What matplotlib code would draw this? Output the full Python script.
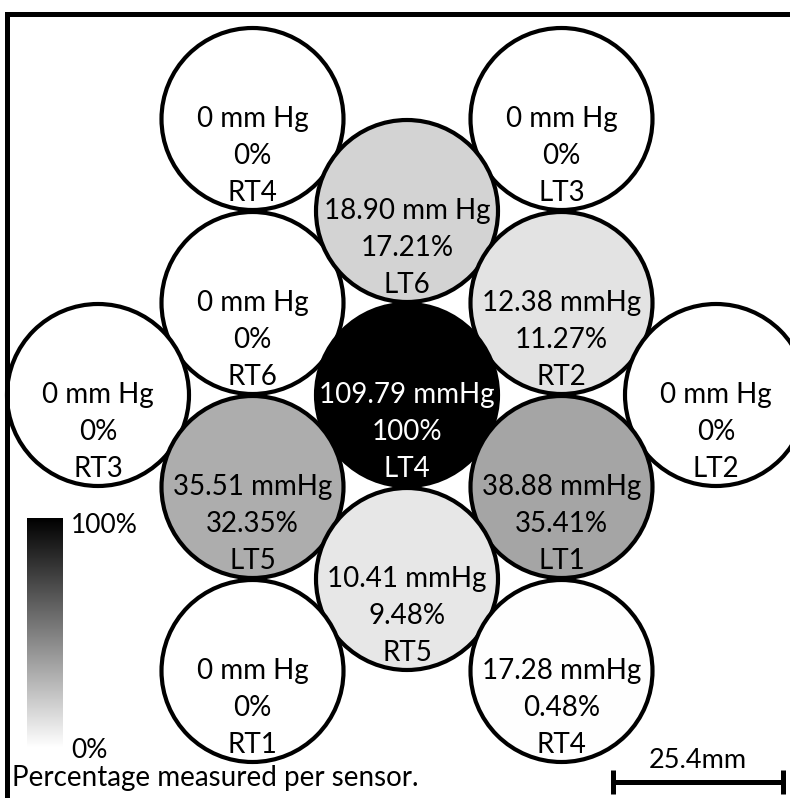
import matplotlib.pyplot as plt
import numpy as np
from matplotlib.patches import Circle
from matplotlib.colors import LinearSegmentedColormap, Normalize
from matplotlib.cm import ScalarMappable

plt.rcParams['font.family'] = ['Lato', 'DejaVu Sans']

# sensor readings
sensors = ['RT4', 'LT3', 'RT6', 'LT6', 'RT2', 'RT3', 'LT4', 'LT2', 'LT5', 'LT1', 'RT5', 'RT1', 'RT4']
pressure = [0, 0, 0, 18.90, 12.38, 0, 109.79, 0, 35.51, 38.88, 10.41, 0, 17.28]
units = ['mm Hg', 'mm Hg', 'mm Hg', 'mm Hg', 'mmHg', 'mm Hg', 'mmHg', 'mm Hg',
         'mmHg', 'mmHg', 'mmHg', 'mm Hg', 'mmHg']
percent = [0, 0, 0, 17.21, 11.27, 0, 100, 0, 32.35, 35.41, 9.48, 0, 0.48]
scale_mm = 25.4

# slot of each sensor on the hex grid (column, half-row)
grid_col = [-1, 1, -1, 0, 1, -2, 0, 2, -1, 1, 0, -1, 1]
grid_row = [-3, -3, -1, -2, -1, 0, 0, 0, 1, 1, 2, 3, 3]

W, H = 790, 798
fig = plt.figure(figsize=(W / 100, H / 100), dpi=100)
ax = fig.add_axes([0, 0, 1, 1])
ax.set_xlim(0, W)
ax.set_ylim(H, 0)
ax.axis('off')

cmap = LinearSegmentedColormap.from_list('white_black', ['white', 'black'])
norm = Normalize(0, 100)

x0, y0, dx, dy, rad = 407, 395, 154.5, 92, 91
for name, p, u, pct, c, rw in zip(sensors, pressure, units, percent, grid_col, grid_row):
    cx = x0 + c * dx
    cy = y0 + rw * dy
    ax.add_patch(Circle((cx, cy), rad, facecolor=cmap(norm(pct)), edgecolor='black', lw=3, zorder=2))
    tc = 'white' if pct > 60 else 'black'
    p_txt = f'{p:.2f}' if p else '0'
    lines = [f'{p_txt} {u}', f'{pct:g}%', name]
    for k, s in enumerate(lines):
        ax.text(cx, cy + 8 + 37 * k, s, ha='center', va='baseline', fontsize=20, color=tc, zorder=3)

# frame (left and top only)
ax.plot([7, 7, W], [H, 14, 14], color='black', lw=3.6, solid_joinstyle='miter', solid_capstyle='butt')

# scale bar
px_per_mm = 170 / 25.4
bx0, by = 613, 782
bx1 = bx0 + scale_mm * px_per_mm
ax.plot([bx0, bx1], [by, by], color='black', lw=3.6, solid_capstyle='butt')
for bx in (bx0, bx1):
    ax.plot([bx, bx], [by - 12, by + 12], color='black', lw=3.6, solid_capstyle='butt')
ax.text((bx0 + bx1) / 2, by - 14, f'{scale_mm}mm', ha='center', va='baseline', fontsize=19.5)

# colour bar
cax = fig.add_axes([27 / W, (H - 748) / H, 36 / W, 230 / H])
cb = fig.colorbar(ScalarMappable(norm=norm, cmap=cmap), cax=cax)
cb.outline.set_visible(False)
cb.set_ticks([])
ax.text(71, 533, '100%', ha='left', va='baseline', fontsize=19)
ax.text(71, 758, '0%', ha='left', va='baseline', fontsize=19)
ax.text(12, 786, 'Percentage measured per sensor.', ha='left', va='baseline', fontsize=20)

plt.savefig('out.png', dpi=100)
plt.close()
